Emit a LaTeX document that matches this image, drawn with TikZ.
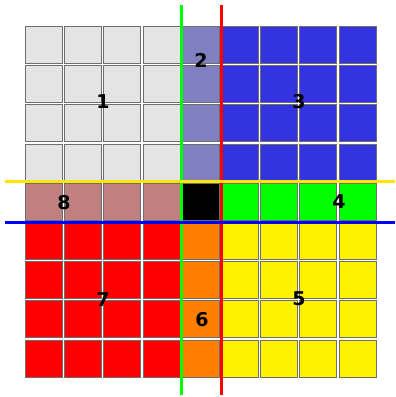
\documentclass[tikz,border=0pt]{standalone}
\usepackage{fontspec}
\setsansfont{DejaVu Sans}
\usetikzlibrary{positioning}

\definecolor{greycell}{RGB}{228,228,228}
\definecolor{purplecell}{RGB}{128,128,192}
\definecolor{bluecell}{RGB}{51,51,224}
\definecolor{rosecell}{RGB}{192,128,128}
\definecolor{orangecell}{RGB}{255,128,0}
\definecolor{cellline}{RGB}{110,110,110}
\definecolor{lineyellow}{RGB}{255,230,0}

\begin{document}
\begin{tikzpicture}[
  x=1pt, y=-1pt,
  every node/.style={font=\sffamily\bfseries\fontsize{19}{19}\selectfont},
  cell/.style={draw=cellline, line width=0.8pt, minimum size=37pt, inner sep=0pt, anchor=north west},
  splitline/.style={line width=3pt},
  region/.style={inner sep=0pt, text=black}
]
\useasboundingbox (0,0) rectangle (396,397);

% === CELLS (9 x 9 grid) ===
% top left block
\foreach \c in {0,...,3}
  \foreach \r in {0,...,3}
    \node[cell, fill=greycell] (c\c-\r) at (25+39.2*\c, 26+39.2*\r) {};
% top middle column
\foreach \r in {0,...,3}
  \node[cell, fill=purplecell] (c4-\r) at (25+39.2*4, 26+39.2*\r) {};
% top right block
\foreach \c in {5,...,8}
  \foreach \r in {0,...,3}
    \node[cell, fill=bluecell] (c\c-\r) at (25+39.2*\c, 26+39.2*\r) {};
% middle row
\foreach \c in {0,...,3}
  \node[cell, fill=rosecell] (c\c-4) at (25+39.2*\c, 26+39.2*4) {};
\node[cell, fill=black] (c4-4) at (25+39.2*4, 26+39.2*4) {};
\foreach \c in {5,...,8}
  \node[cell, fill=green] (c\c-4) at (25+39.2*\c, 26+39.2*4) {};
% bottom left block
\foreach \c in {0,...,3}
  \foreach \r in {5,...,8}
    \node[cell, fill=red] (c\c-\r) at (25+39.2*\c, 26+39.2*\r) {};
% bottom middle column
\foreach \r in {5,...,8}
  \node[cell, fill=orangecell] (c4-\r) at (25+39.2*4, 26+39.2*\r) {};
% bottom right block
\foreach \c in {5,...,8}
  \foreach \r in {5,...,8}
    \node[cell, fill=yellow] (c\c-\r) at (25+39.2*\c, 26+39.2*\r) {};

% === SPLIT LINES ===
\coordinate (gtop) at (181,5);
\coordinate (gbot) at (181,395);
\coordinate (rtop) at (221,5);
\coordinate (rbot) at (221,395);
\coordinate (yleft) at (5,181.5);
\coordinate (yright) at (395,181.5);
\coordinate (bleft) at (5,222);
\coordinate (bright) at (395,222);

\draw[splitline, green] (gtop) -- (gbot);
\draw[splitline, red] (rtop) -- (rbot);
\draw[splitline, lineyellow] (yleft) -- (yright);
\draw[splitline, blue] (bleft) -- (bright);

% === REGION LABELS ===
\node[region] (l1) at (103,102) {1};
\node[region] (l2) at (201,60)  {2};
\node[region] (l3) at (299,102) {3};
\node[region] (l4) at (339,202) {4};
\node[region] (l5) at (299,299) {5};
\node[region] (l6) at (202,320) {6};
\node[region] (l7) at (103,300) {7};
\node[region] (l8) at (64,203)  {8};

\end{tikzpicture}
\end{document}
